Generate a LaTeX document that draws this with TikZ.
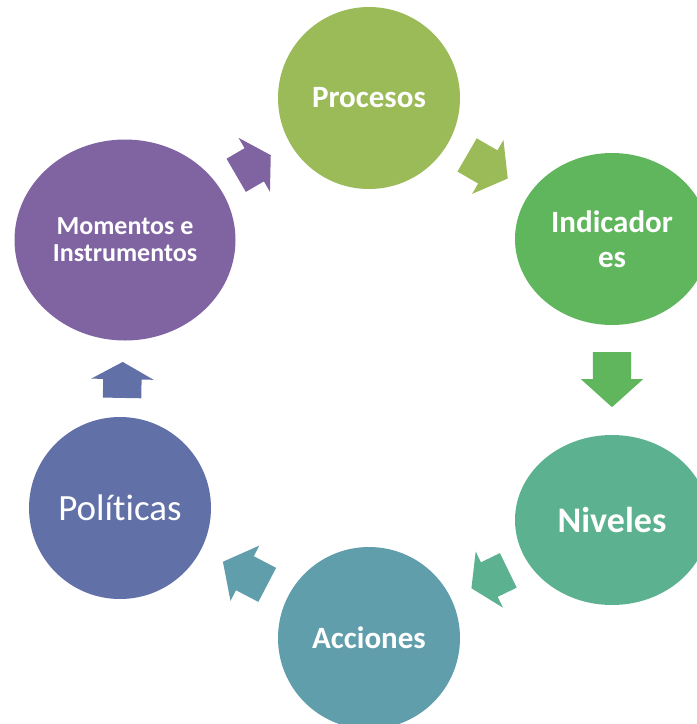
\documentclass[tikz,border=0pt]{standalone}
\usepackage{fontspec}
\setmainfont{Carlito}[Ligatures=CommonOff]
\usetikzlibrary{shapes.geometric,shapes.arrows}
\definecolor{cproc}{RGB}{155,187,89}
\definecolor{cind}{RGB}{96,182,92}
\definecolor{cniv}{RGB}{92,178,144}
\definecolor{cacc}{RGB}{96,158,172}
\definecolor{cpol}{RGB}{98,112,168}
\definecolor{cmom}{RGB}{128,100,162}

\begin{document}
\begin{tikzpicture}[x=1pt,y=-1pt,
    paso/.style={circle,minimum size=182pt,inner sep=0pt,text=white,align=center,
      font=\fontsize{31}{35}\selectfont\bfseries},
    flecha/.style={single arrow,sloped,allow upside down,anchor=tail,draw=none,inner xsep=0pt,
      inner ysep=19pt,single arrow head extend=12pt,minimum width=0pt}]

  \useasboundingbox (0,0) rectangle (697,724);
  \clip (0,0) rectangle (697,724);

  \node[paso,fill=cproc] (proc) at (369,98) {Procesos};
  \node[paso,ellipse,minimum width=194pt,minimum height=172pt,fill=cind] (ind) at (612,239) {Indicador\\es};
  \node[paso,ellipse,minimum width=194pt,minimum height=170pt,fill=cniv,
    font=\fontsize{36}{40}\selectfont\bfseries] (niv) at (612,520) {Niveles};
  \node[paso,fill=cacc] (acc) at (369,638) {Acciones};
  \node[paso,fill=cpol,font=\fontsize{37}{41}\selectfont] (pol) at (120,508) {Políticas};
  \node[paso,ellipse,minimum width=221pt,minimum height=201pt,fill=cmom,
    font=\fontsize{26}{27}\selectfont\bfseries] (mom) at (125,240) {Momentos e\\Instrumentos};

  % flechas del ciclo
  \path (mom.center) -- node[flecha,fill=cmom,pos=0.455,minimum height=40pt,single arrow tip angle=117] {} (proc.center);
  \path (proc.center) -- node[flecha,fill=cproc,pos=0.403,minimum height=47pt,single arrow tip angle=107] {} (ind.center);
  \path (ind.center) -- node[flecha,fill=cind,pos=0.402,minimum height=55pt,single arrow tip angle=96] {} (niv.center);
  \path (niv.center) -- node[flecha,fill=cniv,pos=0.426,minimum height=41pt,single arrow tip angle=115] {} (acc.center);
  \path (acc.center) -- node[flecha,fill=cacc,pos=0.408,minimum height=50pt,single arrow tip angle=103] {} (pol.center);
  \path (pol.center) -- node[flecha,fill=cpol,pos=0.41,minimum height=36pt,single arrow tip angle=122] {} (mom.center);

\end{tikzpicture}
\end{document}
